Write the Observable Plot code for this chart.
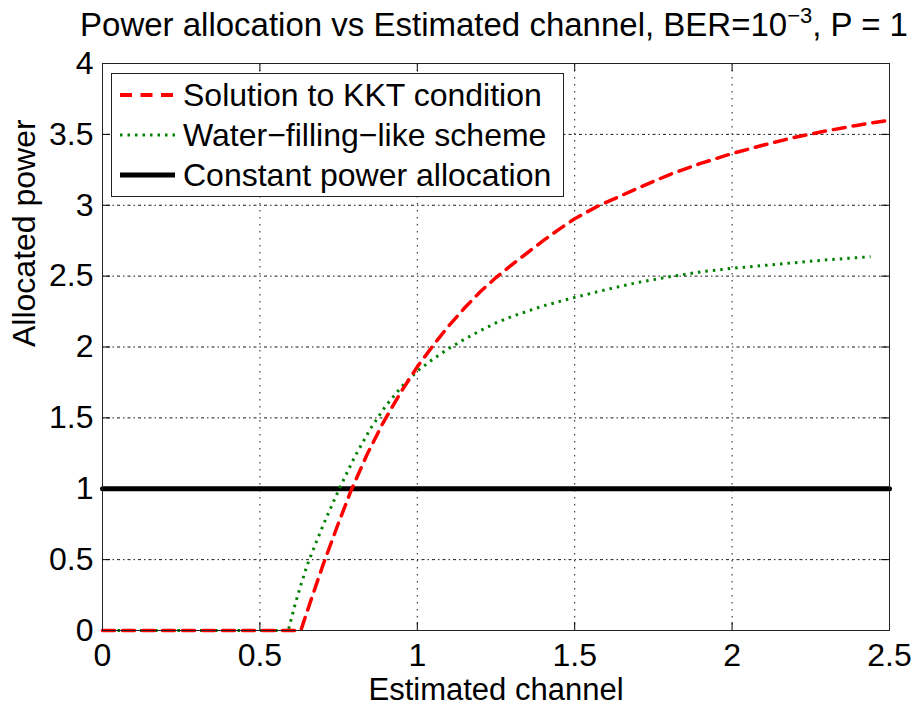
<!DOCTYPE html>
<html>
<head>
<meta charset="utf-8">
<script src="https://cdn.jsdelivr.net/npm/d3@7"></script>
<script src="https://cdn.jsdelivr.net/npm/@observablehq/plot@0.6"></script>
<style>
  html, body { margin: 0; padding: 0; background: #fff; }
  #wrap { position: relative; width: 914px; height: 708px; overflow: hidden; font-family: "Liberation Sans", Arial, sans-serif; color: #000; }
  #title { position: absolute; left: 494px; top: 8px; transform: translateX(-50%); font-size: 33px; white-space: nowrap; line-height: 1; }
  #title sup { font-size: 22px; position: relative; top: -3px; vertical-align: top; }
  #legend { position: absolute; left: 111px; top: 73px; width: 451px; height: 122px; border: 1px solid #222; background: #fff; }
  .row { position: absolute; left: 0; height: 40px; display: flex; align-items: center; font-size: 32px; white-space: nowrap; }
  .row svg { margin-left: 8px; margin-right: 8px; }
</style>
</head>
<body>
<div id="wrap">
  <div id="chart"></div>
  <div id="title">Power allocation vs Estimated channel, BER=10<sup>−3</sup>, P = 1</div>
  <div id="legend"></div>
</div>
<script>
// Allocated power vs estimated channel gain for three allocation schemes
const kktChannel = [0, 0.63, 0.66, 0.70, 0.75, 0.79, 0.84, 0.89, 0.95, 1.00, 1.05, 1.10, 1.15, 1.20, 1.25, 1.30, 1.35, 1.40, 1.45, 1.50, 1.57, 1.65, 1.70, 1.80, 1.90, 2.00, 2.10, 2.20, 2.30, 2.40, 2.50];
const kktPower   = [0, 0, 0.20, 0.46, 0.76, 0.99, 1.24, 1.46, 1.69, 1.86, 2.01, 2.15, 2.275, 2.39, 2.49, 2.58, 2.665, 2.75, 2.83, 2.905, 2.99, 3.07, 3.12, 3.215, 3.295, 3.365, 3.425, 3.48, 3.525, 3.565, 3.60];

const wfChannel = [0, 0.59, 0.61, 0.63, 0.65, 0.68, 0.71, 0.75, 0.80, 0.85, 0.90, 0.95, 1.00, 1.05, 1.10, 1.15, 1.20, 1.25, 1.30, 1.40, 1.50, 1.60, 1.70, 1.80, 1.90, 2.00, 2.10, 2.20, 2.30, 2.44];
const wfPower   = [0, 0, 0.17, 0.32, 0.46, 0.63, 0.79, 0.99, 1.22, 1.42, 1.585, 1.72, 1.83, 1.915, 1.99, 2.055, 2.115, 2.17, 2.215, 2.29, 2.35, 2.405, 2.455, 2.495, 2.53, 2.555, 2.575, 2.595, 2.615, 2.637];

const constChannel = [0, 2.5];
const constPower   = [1, 1];

const xTicks = [0, 0.5, 1, 1.5, 2, 2.5];
const yTicks = [0, 0.5, 1, 1.5, 2, 2.5, 3, 3.5, 4];

const seriesNames = ["Solution to KKT condition", "Water−filling−like scheme", "Constant power allocation"];
const seriesColors = ["#ff0000", "#008000", "#000000"];

const kkt = kktChannel.map((x, i) => ({x, y: kktPower[i]}));
const wf = wfChannel.map((x, i) => ({x, y: wfPower[i]}));
const cst = constChannel.map((x, i) => ({x, y: constPower[i]}));

const W = 914, H = 708, mt = 63, mb = 78, ml = 102, mr = 25;
const frameW = W - ml - mr, frameH = H - mt - mb;
const tickLen = 8;
const font = "'Liberation Sans', Arial, sans-serif";

const chart = Plot.plot({
  width: W, height: H,
  marginTop: mt, marginBottom: mb, marginLeft: ml, marginRight: mr,
  x: {domain: [0, 2.5]},
  y: {domain: [0, 4]},
  style: {fontFamily: font, fontSize: "32px", color: "#000", background: "#fff"},
  marks: [
    // dotted grid
    Plot.gridX(xTicks, {stroke: "#000", strokeOpacity: 0.9, strokeWidth: 1, strokeDasharray: "1.5,5.5"}),
    Plot.gridY(yTicks, {stroke: "#000", strokeOpacity: 0.9, strokeWidth: 1, strokeDasharray: "1.5,3,3,3"}),
    // inward ticks on all four sides
    Plot.ruleX(xTicks, {x: d => d, insetTop: frameH - tickLen, stroke: "#000"}),
    Plot.ruleX(xTicks, {x: d => d, insetBottom: frameH - tickLen, stroke: "#000"}),
    Plot.ruleY(yTicks, {y: d => d, insetRight: frameW - tickLen, stroke: "#000"}),
    Plot.ruleY(yTicks, {y: d => d, insetLeft: frameW - tickLen, stroke: "#000"}),
    Plot.axisX(xTicks, {tickSize: 0, tickPadding: 13, fontSize: 32, label: null, tickFormat: d => String(d)}),
    Plot.axisY(yTicks, {tickSize: 0, tickPadding: 9, fontSize: 32, label: null, tickFormat: d => String(d)}),
    // curves
    Plot.line(cst, {x: "x", y: "y", stroke: seriesColors[2], strokeWidth: 5}),
    Plot.line(wf, {x: "x", y: "y", stroke: seriesColors[1], strokeWidth: 3, strokeDasharray: "2.5,5", strokeLinecap: "butt"}),
    Plot.line(kkt, {x: "x", y: "y", stroke: seriesColors[0], strokeWidth: 3.5, strokeDasharray: "12,8"}),
    Plot.frame({stroke: "#222", strokeWidth: 1}),
    // axis titles
    Plot.text(["Estimated channel"], {frameAnchor: "bottom", dy: 69, fontSize: 31, fill: "#000"}),
    Plot.text(["Allocated power"], {frameAnchor: "left", dx: -78, rotate: -90, fontSize: 32, fill: "#000"})
  ]
});
document.getElementById("chart").appendChild(chart);

// legend box
const legend = document.getElementById("legend");
const dashes = ["12,8.5", "2.5,5", null];
const widths = [4, 3, 5];
seriesNames.forEach((name, i) => {
  const row = document.createElement("div");
  row.className = "row";
  row.style.top = (1 + i * 40) + "px";
  const svg = d3.create("svg").attr("width", 55).attr("height", 10);
  svg.append("line").attr("x1", 0).attr("x2", 55).attr("y1", 5).attr("y2", 5)
    .attr("stroke", seriesColors[i]).attr("stroke-width", widths[i])
    .attr("stroke-dasharray", dashes[i]);
  row.appendChild(svg.node());
  const span = document.createElement("span");
  span.textContent = name;
  row.appendChild(span);
  legend.appendChild(row);
});
</script>
</body>
</html>
